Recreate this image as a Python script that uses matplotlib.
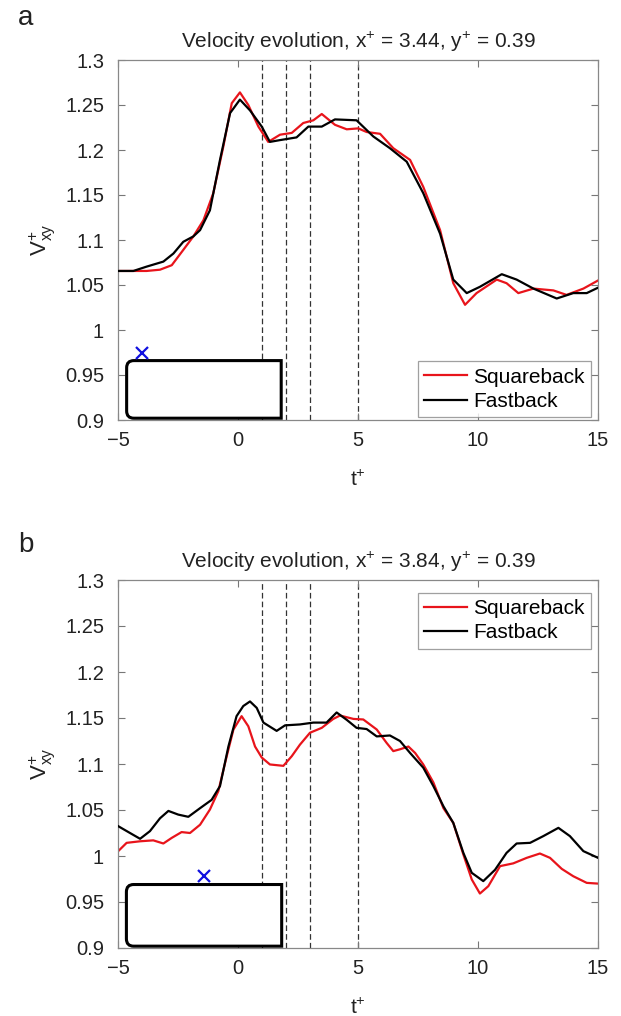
import matplotlib
matplotlib.use("Agg")
import matplotlib.pyplot as plt
import numpy as np
from matplotlib.path import Path
from matplotlib.patches import PathPatch
from matplotlib.ticker import FuncFormatter

plt.rcParams['font.family'] = ['Liberation Sans', 'DejaVu Sans']
plt.rcParams['mathtext.default'] = 'regular'

# ---- panel a: x+ = 3.44 ----
t_sq_a = [-4.99, -3.81, -3.25, -2.76, -2.28, -1.86, -1.44, -1.03, -0.61, -0.26, 0.08, 0.43, 0.85,
          1.26, 1.75, 2.24, 2.72, 3.14, 3.49, 4.04, 4.53, 5.01, 5.36, 5.92, 6.47, 7.17, 7.72, 8.42,
          8.97, 9.46, 9.94, 10.78, 11.19, 11.68, 12.31, 13.14, 13.69, 14.39, 15.0]
v_sq_a = [1.0656, 1.0656, 1.067, 1.072, 1.089, 1.104, 1.122, 1.152, 1.204, 1.252, 1.264, 1.25, 1.226,
          1.209, 1.217, 1.219, 1.230, 1.233, 1.240, 1.228, 1.223, 1.224, 1.220, 1.218, 1.202, 1.189,
          1.159, 1.111, 1.052, 1.028, 1.041, 1.056, 1.052, 1.041, 1.046, 1.044, 1.039, 1.046, 1.055]
t_fb_a = [-4.99, -4.36, -3.81, -3.11, -2.69, -2.28, -1.86, -1.58, -1.17, -0.75, -0.33, 0.08, 0.5,
          0.99, 1.33, 1.75, 2.44, 2.93, 3.49, 4.04, 4.94, 5.64, 6.33, 7.03, 7.72, 8.42, 8.97, 9.53,
          10.08, 10.99, 11.61, 12.31, 13.28, 13.97, 14.53, 15.0]
v_fb_a = [1.0656, 1.0656, 1.0704, 1.076, 1.085, 1.098, 1.104, 1.111, 1.133, 1.189, 1.241, 1.256, 1.244,
          1.226, 1.209, 1.211, 1.214, 1.226, 1.226, 1.234, 1.233, 1.215, 1.202, 1.187, 1.152, 1.107,
          1.056, 1.041, 1.048, 1.062, 1.056, 1.046, 1.035, 1.041, 1.041, 1.047]

# ---- panel b: x+ = 3.84 ----
t_sq_b = [-4.99, -4.64, -4.08, -3.53, -3.11, -2.76, -2.35, -2.0, -1.58, -1.17, -0.82, -0.47, -0.19,
          0.15, 0.43, 0.71, 0.99, 1.33, 1.89, 2.24, 2.58, 3.0, 3.49, 3.97, 4.25, 4.81, 5.22, 5.78,
          6.19, 6.47, 6.75, 7.10, 7.38, 7.72, 8.14, 8.56, 8.97, 9.39, 9.74, 10.08, 10.43, 10.92,
          11.47, 12.03, 12.58, 13.0, 13.49, 13.97, 14.53, 15.0]
v_sq_b = [1.0053, 1.0143, 1.016, 1.017, 1.0136, 1.0197, 1.026, 1.025, 1.034, 1.0505, 1.0705, 1.1085,
          1.1375, 1.152, 1.141, 1.119, 1.107, 1.0995, 1.098, 1.1085, 1.121, 1.134, 1.1393, 1.149,
          1.1527, 1.149, 1.1484, 1.1375, 1.123, 1.114, 1.116, 1.119, 1.112, 1.0995, 1.080, 1.052,
          1.036, 1.0016, 0.9745, 0.9592, 0.9672, 0.989, 0.992, 0.998, 1.0027, 0.998, 0.986, 0.978,
          0.9708, 0.970]
t_fb_b = [-4.99, -4.5, -4.08, -3.67, -3.25, -2.90, -2.49, -2.07, -1.58, -1.10, -0.75, -0.40, -0.06,
          0.22, 0.5, 0.78, 1.06, 1.61, 1.96, 2.58, 3.14, 3.69, 4.11, 4.53, 4.94, 5.36, 5.78, 6.33,
          6.75, 7.17, 7.72, 8.14, 8.56, 8.97, 9.39, 9.74, 10.22, 10.71, 11.19, 11.61, 12.17, 12.72,
          13.35, 13.83, 14.39, 15.0]
v_fb_b = [1.0324, 1.025, 1.0187, 1.027, 1.041, 1.049, 1.045, 1.0426, 1.052, 1.061, 1.076, 1.119,
          1.152, 1.163, 1.168, 1.161, 1.145, 1.136, 1.142, 1.143, 1.145, 1.145, 1.156, 1.148, 1.1393,
          1.138, 1.130, 1.131, 1.125, 1.112, 1.096, 1.076, 1.054, 1.036, 1.0034, 0.9817, 0.9727,
          0.985, 1.0034, 1.0136, 1.0143, 1.0216, 1.0306, 1.0216, 1.0053, 0.998]

vlines_t = [1, 2, 3, 5]
titles = ["Velocity evolution, x$^{+}$ = 3.44, y$^{+}$ = 0.39",
          "Velocity evolution, x$^{+}$ = 3.84, y$^{+}$ = 0.39"]
probe_a = (-4.0, 0.975)
probe_b = (-1.42, 0.978)
body_a = (-4.64, 1.80, 0.902, 0.966)
body_b = (-4.65, 1.82, 0.902, 0.969)


def body_patch(box):
    x0, x1, y0, y1 = box
    rx, ry = 0.3, 0.008
    verts = [(x1, y0), (x1, y1), (x0 + rx, y1), (x0, y1), (x0, y1 - ry),
             (x0, y0 + ry), (x0, y0), (x0 + rx, y0), (x1, y0)]
    codes = [Path.MOVETO, Path.LINETO, Path.LINETO, Path.CURVE3, Path.CURVE3,
             Path.LINETO, Path.CURVE3, Path.CURVE3, Path.CLOSEPOLY]
    return PathPatch(Path(verts, codes), facecolor='white', edgecolor='black',
                     linewidth=2.2, zorder=4)


def panel(ax, ts, vs, tf, vf, title, probe, box, legend_loc, legend_anchor):
    for t in vlines_t:
        ax.axvline(t, color='#333333', linestyle=(0, (4.5, 2.5)), linewidth=0.9, zorder=1)
    ax.plot(ts, vs, color='#e8141b', linewidth=1.6, label='Squareback', zorder=2)
    ax.plot(tf, vf, color='black', linewidth=1.6, label='Fastback', zorder=3)
    ax.add_patch(body_patch(box))
    ax.plot(*probe, marker='x', color='#1010e0', markersize=8, mew=1.6, zorder=5)
    ax.set_xlim(-5, 15)
    ax.set_ylim(0.9, 1.3)
    ax.set_xticks([-5, 0, 5, 10, 15])
    ax.set_yticks(np.arange(0.9, 1.3001, 0.05))
    ax.yaxis.set_major_formatter(FuncFormatter(lambda v, p: '%g' % round(v, 2)))
    ax.tick_params(direction='in', top=True, right=True, length=5, width=0.8,
                   color='#777777', labelsize=14.5, labelcolor='#222222')
    ax.tick_params(axis='y', pad=10)
    ax.tick_params(axis='x', pad=8)
    for s in ax.spines.values():
        s.set_color('#888888')
        s.set_linewidth(0.9)
    ax.set_title(title, fontsize=15, color='#222222', pad=9)
    ax.set_xlabel('t$^{+}$', fontsize=15, color='#222222', labelpad=14)
    ax.set_ylabel('V$^{+}_{xy}$', fontsize=16, color='#222222', labelpad=6)
    leg = ax.legend(loc=legend_loc, bbox_to_anchor=legend_anchor, fontsize=15, frameon=True,
                    fancybox=False, handlelength=2.05, handletextpad=0.3, borderpad=0.3,
                    labelspacing=0.25, borderaxespad=0)
    leg.get_frame().set_edgecolor('#888888')
    leg.get_frame().set_linewidth(0.9)
    leg.set_zorder(6)


fig = plt.figure(figsize=(6.21, 10.16), dpi=100)
ax1 = fig.add_axes([118 / 621, (1016 - 420) / 1016, 480 / 621, 360 / 1016])
ax2 = fig.add_axes([118 / 621, (1016 - 948) / 1016, 480 / 621, 368 / 1016])

panel(ax1, t_sq_a, v_sq_a, t_fb_a, v_fb_a, titles[0], probe_a, body_a,
      'lower right', (0.985, 0.008))
panel(ax2, t_sq_b, v_sq_b, t_fb_b, v_fb_b, titles[1], probe_b, body_b,
      'upper right', (0.985, 0.965))

fig.text(18 / 621, 1 - 18 / 1016, 'a', fontsize=20, va='center', ha='left', color='#222222')
fig.text(18 / 621, 1 - 545 / 1016, 'b', fontsize=20, va='center', ha='left', color='#222222')

fig.savefig('out.png', dpi=100)
